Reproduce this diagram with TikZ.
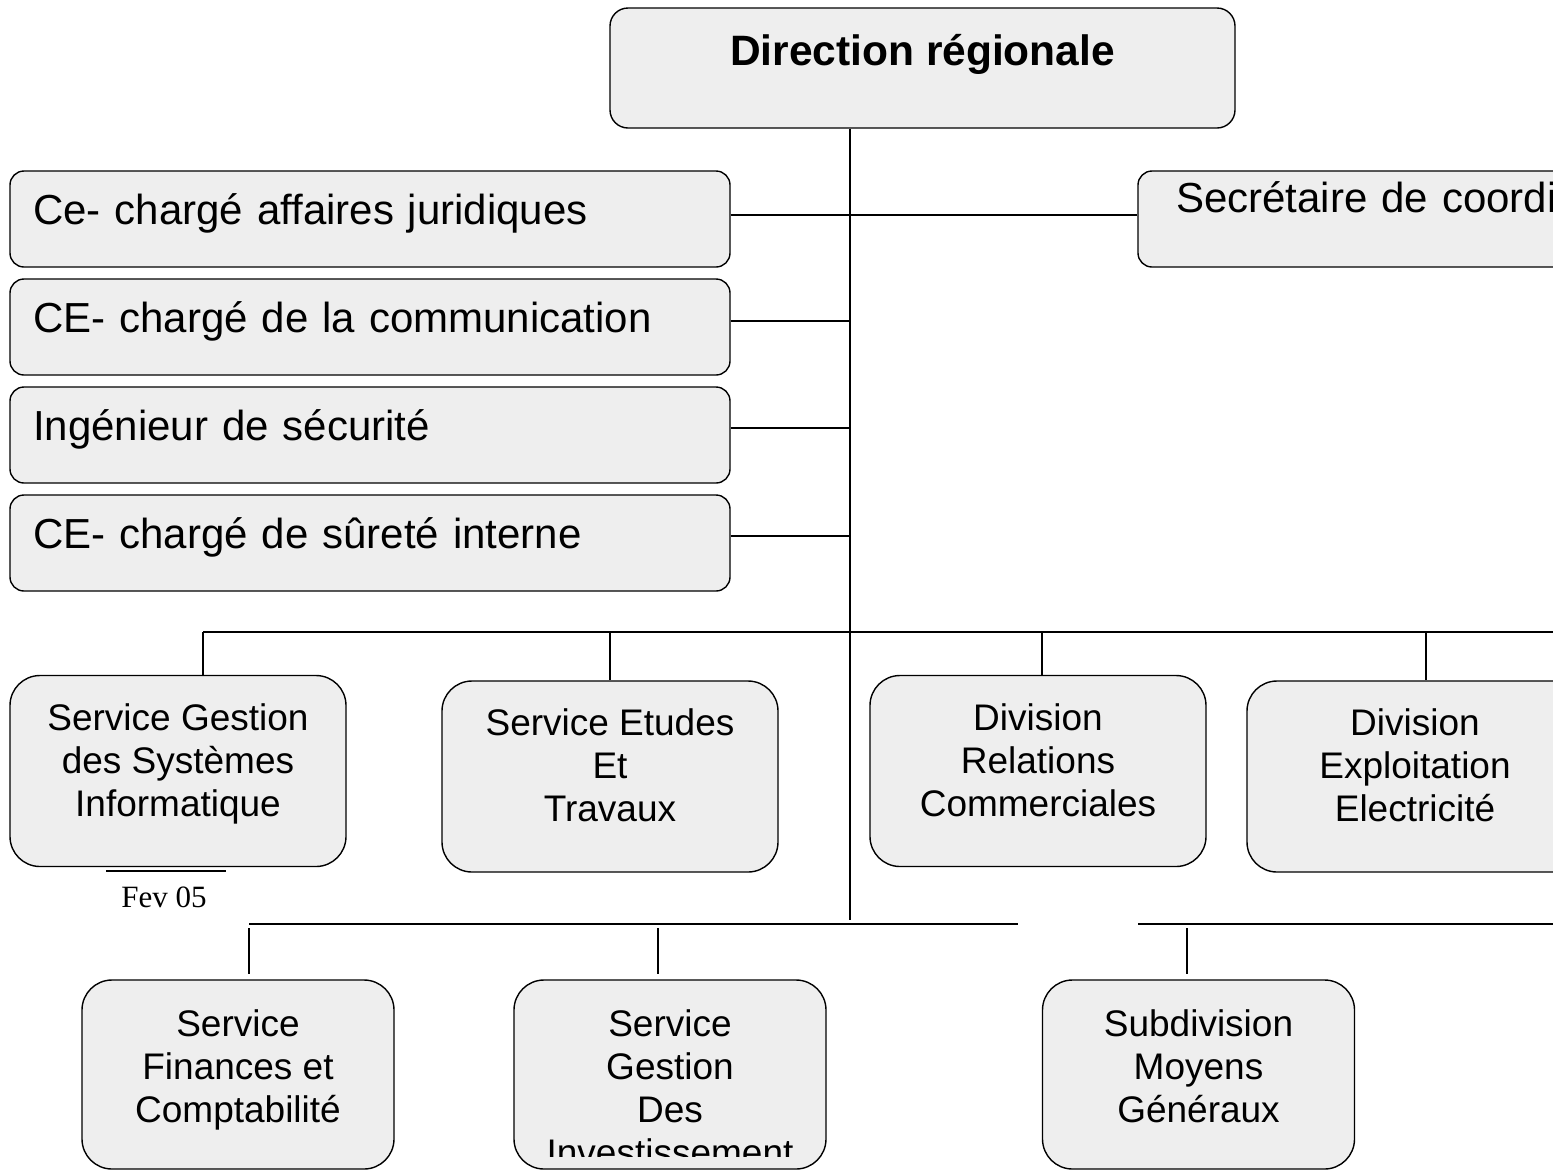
\documentclass[tikz,border=0pt]{standalone}
\usepackage{fontspec}
\setmainfont{Liberation Sans}
\newfontfamily\datefont{Liberation Serif}
\usetikzlibrary{positioning,calc}
\definecolor{boxfill}{HTML}{EEEEEE}
\tikzset{
  link/.style={draw=black,line width=1.5pt},
  gapped/.style={link,shorten <=4pt,shorten >=5pt},
  boxbase/.style={draw=black,line width=1.4pt,fill=boxfill},
  headbox/.style={boxbase,rounded corners=18pt,minimum width=625pt,minimum height=120pt,
                  font=\fontsize{42.5}{49}\selectfont\bfseries,text height=31pt,text depth=37pt},
  staffbox/.style={boxbase,rounded corners=14pt,minimum width=720pt,minimum height=96pt,
                   inner xsep=23pt,text width=674pt,align=left,
                   font=\fontsize{42}{49}\selectfont,text height=31pt,text depth=21pt},
  unitbox/.style={boxbase,rounded corners=30pt,minimum width=336pt,minimum height=191pt,
                  align=center,font=\fontsize{37}{43}\selectfont,inner ysep=0pt,
                  text height=114pt,text depth=24pt},
  lowbox/.style={unitbox,minimum width=312pt,minimum height=189pt,text depth=19pt},
  lowtext/.style={align=center,font=\fontsize{37}{43}\selectfont,inner sep=0pt,
                  text height=181pt,text depth=0pt},
}
\begin{document}
\begin{tikzpicture}[x=1pt,y=-1pt]
  \useasboundingbox (0,0) rectangle (1553,1171);
  \clip (0,0) rectangle (1553,1171);

  % direction and staff
  \node[headbox] (head) at (922.5,68) {Direction régionale};
  \node[staffbox] (jur) at (370,219) {Ce- chargé affaires juridiques};
  \node[staffbox] (comm) at (370,327) {CE- chargé de la communication};
  \node[staffbox] (secu) at (370,435) {Ingénieur de sécurité};
  \node[staffbox] (surete) at (370,543) {CE- chargé de sûreté interne};
  \node[staffbox,inner xsep=38pt,text width=644pt,text depth=45pt] (secr) at (1498,219) {Secrétaire de coordination};

  % trunk and staff links
  \coordinate (trunk) at (850,0);
  \coordinate (trunkend) at (850,920);
  \draw[link] (head.south -| trunk) -- (trunkend);
  \coordinate (tapjur) at (850,215);
  \coordinate (tapcomm) at (850,321);
  \coordinate (tapsecu) at (850,428);
  \coordinate (tapsurete) at (850,536);
  \draw[link] (jur.east |- tapjur) -- (secr.west |- tapjur);
  \draw[link] (comm.east |- tapcomm) -- (tapcomm);
  \draw[link] (secu.east |- tapsecu) -- (tapsecu);
  \draw[link] (surete.east |- tapsurete) -- (tapsurete);

  % services and divisions
  \node[unitbox] (sgsi) at (178,771) {Service Gestion\\des Systèmes\\Informatique};
  \node[unitbox] (etudes) at (610,776.5) {Service Etudes\\Et\\Travaux};
  \node[unitbox] (drc) at (1038,771) {Division\\Relations\\Commerciales};
  \node[unitbox] (dee) at (1415,776.5) {Division\\Exploitation\\Electricité};

  \coordinate (busa west) at (203,632);
  \coordinate (busa east) at (1600,632);
  \draw[link] (busa west) -- (busa east);
  \foreach \x/\n in {203/sgsi,610/etudes,1042/drc,1426/dee}{
    \coordinate (drop) at (\x,632);
    \draw[link] (drop) -- (drop |- \n.north);
  }

  % date mark
  \draw[link,line width=1.2pt] (106,871) -- (226,871);
  \node[font=\datefont\fontsize{31}{36}\selectfont] (fevdate) at (164,897) {Fev 05};

  % lower row
  \node[lowbox] (sfc) at (238,1074.5) {Service\\Finances et\\Comptabilité};
  \node[lowbox,path picture={
      \clip (path picture bounding box.north west) rectangle ([yshift=13pt]path picture bounding box.south east);
      \node[lowtext] (investtext) at (path picture bounding box.center) {Service\\Gestion\\Des\\Investissement};
    }] (invest) at (670,1074.5) {};
  \node[lowbox] (smg) at (1198.5,1074.5) {Subdivision\\Moyens\\Généraux};

  \coordinate (busb west) at (249,924);
  \coordinate (busb gapl) at (1018,924);
  \coordinate (busb gapr) at (1138,924);
  \coordinate (busb east) at (1600,924);
  \draw[link] (busb west) -- (busb gapl);
  \draw[link] (busb gapr) -- (busb east);
  \foreach \x/\n in {249/sfc,658/invest,1187/smg}{
    \coordinate (drop) at (\x,924);
    \draw[gapped] (drop) -- (drop |- \n.north);
  }
\end{tikzpicture}
\end{document}
